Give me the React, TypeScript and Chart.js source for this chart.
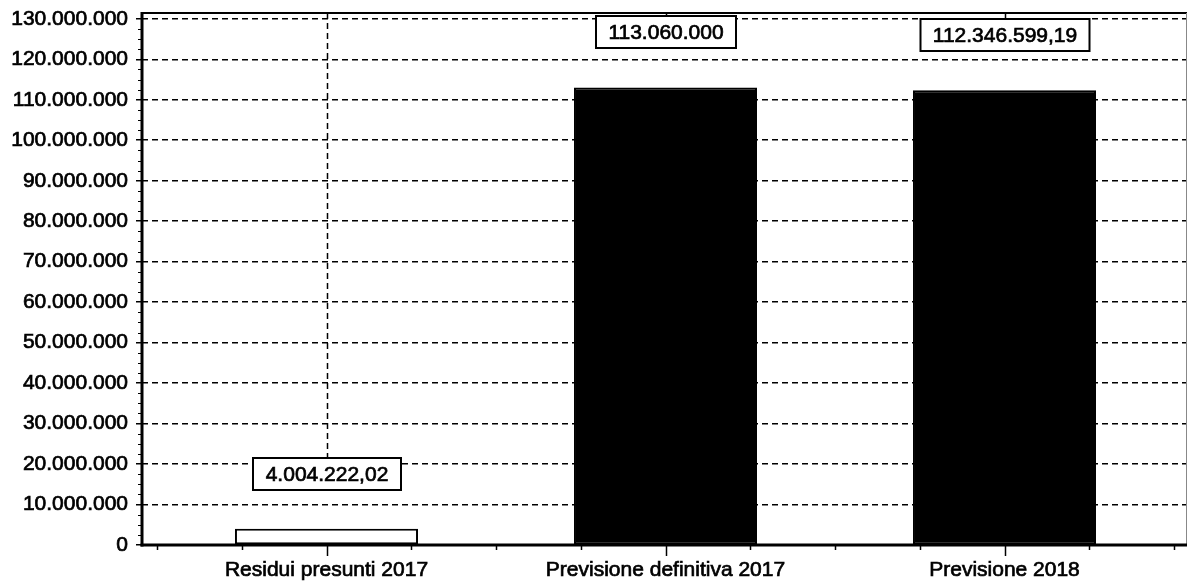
import React, { useEffect, useRef } from 'react';
import { Chart, registerables } from 'chart.js';

Chart.register(...registerables);

const categories = ['Residui presunti 2017', 'Previsione definitiva 2017', 'Previsione 2018'];
const values = [4004222.02, 113060000, 112346599.19];
const barFills = ['#ffffff', '#000000', '#000000'];
const yTickValues = [
  0, 10000000, 20000000, 30000000, 40000000, 50000000, 60000000,
  70000000, 80000000, 90000000, 100000000, 110000000, 120000000, 130000000,
];
const yMax = 131450000;
const xQuarterTicks = [-0.5, -0.25, 0, 0.25, 0.5, 0.75, 1, 1.25, 1.5, 1.75, 2, 2.25, 2.5];

const FONT = '"Liberation Sans", Arial, Helvetica, sans-serif';

function fmt(v: number): string {
  const abs = Math.abs(v);
  const fixed = abs.toFixed(2);
  let [int, dec] = fixed.split('.');
  int = int.replace(/\B(?=(\d{3})+(?!\d))/g, '.');
  const s = dec === '00' ? int : int + ',' + dec;
  return v < 0 ? '-' + s : s;
}

const framePlugin = {
  id: 'frame',
  afterDatasetsDraw(chart: any) {
    const { ctx, chartArea } = chart;
    const { left, right, top, bottom } = chartArea;
    const xs = chart.scales.x;
    const ys = chart.scales.y;
    ctx.save();
    ctx.strokeStyle = '#000';
    ctx.setLineDash([]);
    // top border
    ctx.lineWidth = 2;
    ctx.beginPath();
    ctx.moveTo(left, top);
    ctx.lineTo(right, top);
    ctx.stroke();
    // right border
    ctx.strokeStyle = '#888';
    ctx.lineWidth = 1;
    ctx.beginPath();
    ctx.moveTo(right - 0.5, top);
    ctx.lineTo(right - 0.5, bottom);
    ctx.stroke();
    ctx.strokeStyle = '#000';
    // x-axis ticks
    ctx.lineWidth = 1.5;
    xQuarterTicks.forEach((v) => {
      const px = Math.round(xs.getPixelForValue(v)) + 0.5;
      const len = Number.isInteger(v) ? 11 : 5;
      ctx.beginPath();
      ctx.moveTo(px, bottom);
      ctx.lineTo(px, bottom + len);
      ctx.stroke();
    });
    // y minor ticks
    ctx.lineWidth = 1;
    for (let i = 0; i < yTickValues.length - 1; i++) {
      const a = yTickValues[i];
      const b = yTickValues[i + 1];
      for (let k = 1; k < 4; k++) {
        const py = Math.round(ys.getPixelForValue(a + ((b - a) * k) / 4)) + 0.5;
        ctx.beginPath();
        ctx.moveTo(left - 4, py);
        ctx.lineTo(left, py);
        ctx.stroke();
      }
    }
    // axis lines
    ctx.lineWidth = 3;
    ctx.beginPath();
    ctx.moveTo(left, top - 1);
    ctx.lineTo(left, bottom + 1.5);
    ctx.stroke();
    ctx.beginPath();
    ctx.moveTo(left - 1.5, bottom);
    ctx.lineTo(right, bottom);
    ctx.stroke();
    ctx.restore();
  },
};

const valueLabelPlugin = {
  id: 'valueLabels',
  afterDraw(chart: any) {
    const { ctx, chartArea } = chart;
    const meta = chart.getDatasetMeta(0);
    ctx.save();
    ctx.font = '21px ' + FONT;
    meta.data.forEach((bar: any, i: number) => {
      const text = fmt(values[i]);
      const w = Math.round(ctx.measureText(text).width + 25);
      const h = 32;
      const boxBottom = Math.round(bar.y - 39);
      const boxTop = boxBottom - h;
      const cx = Math.round(bar.x);
      ctx.strokeStyle = '#000';
      ctx.lineWidth = 1.5;
      ctx.setLineDash([6, 4]);
      ctx.beginPath();
      ctx.moveTo(cx + 0.5, chartArea.top);
      ctx.lineTo(cx + 0.5, boxTop);
      ctx.stroke();
      ctx.setLineDash([]);
      ctx.fillStyle = '#fff';
      ctx.fillRect(cx - w / 2, boxTop, w, h);
      ctx.lineWidth = 2;
      ctx.strokeRect(cx - w / 2, boxTop, w, h);
      ctx.fillStyle = '#000';
      ctx.textAlign = 'center';
      ctx.textBaseline = 'middle';
      ctx.lineWidth = 0.7;
      ctx.strokeText(text, cx, boxTop + h / 2 + 1);
      ctx.fillText(text, cx, boxTop + h / 2 + 1);
    });
    ctx.restore();
  },
};

export default function App() {
  const canvasRef = useRef<HTMLCanvasElement | null>(null);

  useEffect(() => {
    if (!canvasRef.current) return;
    Chart.defaults.font.family = FONT;
    const chart = new Chart(canvasRef.current, {
      type: 'bar',
      data: {
        datasets: [
          {
            data: values.map((v, i) => ({ x: i, y: v })),
            backgroundColor: barFills,
            borderColor: '#000',
            borderWidth: 2,
            borderSkipped: false,
            barPercentage: 0.54,
            categoryPercentage: 1,
          },
        ],
      },
      options: {
        animation: false,
        responsive: false,
        devicePixelRatio: 1,
        layout: { padding: { top: 13, right: 0, left: 0, bottom: 0 } },
        plugins: { legend: { display: false }, tooltip: { enabled: false } },
        scales: {
          x: {
            type: 'linear',
            offset: false,
            min: -0.5 - 15 / 339,
            max: 2.5 + 13 / 339,
            afterFit: (scale: any) => {
              scale.height = 43;
              scale.paddingLeft = 0;
              scale.paddingRight = 0;
            },
            afterBuildTicks: (scale: any) => {
              scale.ticks = categories.map((_, i) => ({ value: i }));
            },
            grid: { display: false, drawTicks: false, offset: false },
            border: { display: false },
            ticks: {
              autoSkip: false,
              maxRotation: 0,
              padding: 13,
              color: '#000',
              textStrokeColor: '#000',
              textStrokeWidth: 0.7,
              font: { size: 21, family: FONT },
              callback: (v: any) => categories[Math.round(Number(v))] ?? '',
            },
          },
          y: {
            min: 0,
            max: yMax,
            afterFit: (scale: any) => {
              scale.width = 142;
              scale.paddingTop = 0;
              scale.paddingBottom = 0;
            },
            afterBuildTicks: (scale: any) => {
              scale.ticks = yTickValues.map((v) => ({ value: v }));
            },
            grid: {
              color: '#000',
              lineWidth: 1.6,
              tickBorderDash: [1, 0],
              drawTicks: true,
              tickLength: 6,
              tickColor: '#000',
              tickWidth: 1.5,
            },
            border: { display: false, dash: [6, 4] },
            ticks: {
              padding: 8,
              color: '#000',
              textStrokeColor: '#000',
              textStrokeWidth: 0.7,
              font: { size: 21, family: FONT },
              callback: (v: any) => fmt(Number(v)),
            },
          },
        },
      },
      plugins: [framePlugin, valueLabelPlugin],
    });
    return () => chart.destroy();
  }, []);

  return (
    <div style={{ position: 'absolute', left: 0, top: 0, width: 1187, height: 588, background: '#fff' }}>
      <canvas ref={canvasRef} width={1187} height={588} style={{ display: 'block' }} />
    </div>
  );
}
